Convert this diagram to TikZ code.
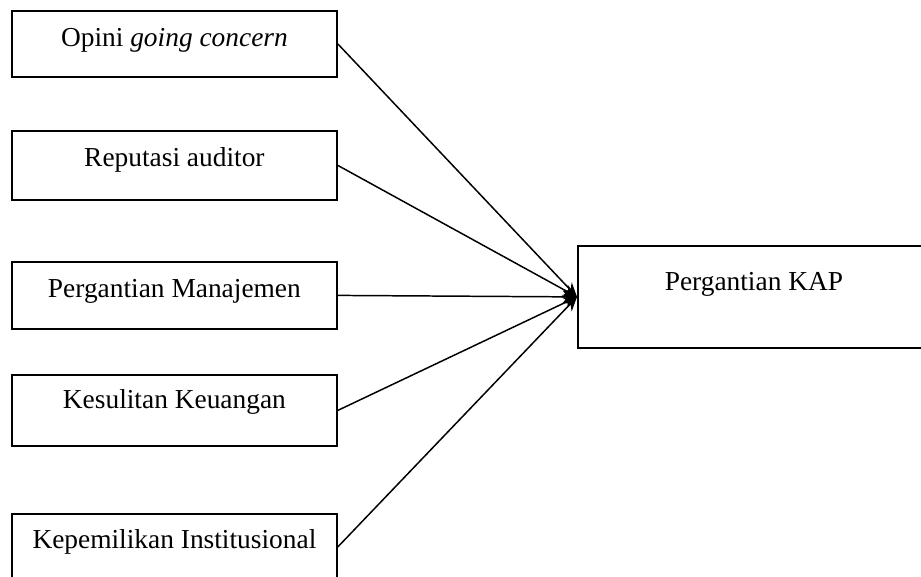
\documentclass[tikz,border=0pt]{standalone}
\usepackage{fontspec}
\setmainfont{Liberation Serif}
\usepackage{tikz}
\usetikzlibrary{arrows.meta, positioning}
\tikzstyle{factorbox} = [rectangle, draw=black, line width=0.8pt, inner sep=0pt, minimum width=142.35pt, text centered, font=\fontsize{12}{14}\selectfont, text height=15.77pt, anchor=north west]
\tikzstyle{arrow} = [line width=0.65pt, -{Stealth[length=6.2pt,width=5.4pt]}]

\begin{document}
\begin{tikzpicture}[x=0.438pt, y=-0.438pt]
		
		\useasboundingbox (0,0) rectangle (921,577);
		\clip (0,0) rectangle (921,577);
		
		% independent variables
		\node (opini) [factorbox, text depth=13.14pt] at (11,10) {Opini \textit{going concern}};
		\node (reputasi) [factorbox, text depth=14.45pt] at (11,130) {Reputasi auditor};
		\node (manajemen) [factorbox, text depth=13.58pt] at (11,261) {Pergantian Manajemen};
		\node (kesulitan) [factorbox, text height=14.89pt, text depth=16.2pt] at (11,374) {Kesulitan Keuangan};
		\node (institusi) [factorbox, text height=15.33pt, text depth=13.58pt] at (11,513) {Kepemilikan Institusional};
		
		% dependent variable
		\node (kap) [factorbox, minimum width=154.2pt, text height=19.71pt, text depth=24.97pt] at (577,245) {Pergantian KAP};
		
		\draw [arrow] (opini.east) -- (kap.west);
		\draw [arrow] (reputasi.east) -- (kap.west);
		\draw [arrow] (manajemen.east) -- (kap.west);
		\draw [arrow] (kesulitan.east) -- (kap.west);
		\draw [arrow] (institusi.east) -- (kap.west);
		
	\end{tikzpicture}
\end{document}
